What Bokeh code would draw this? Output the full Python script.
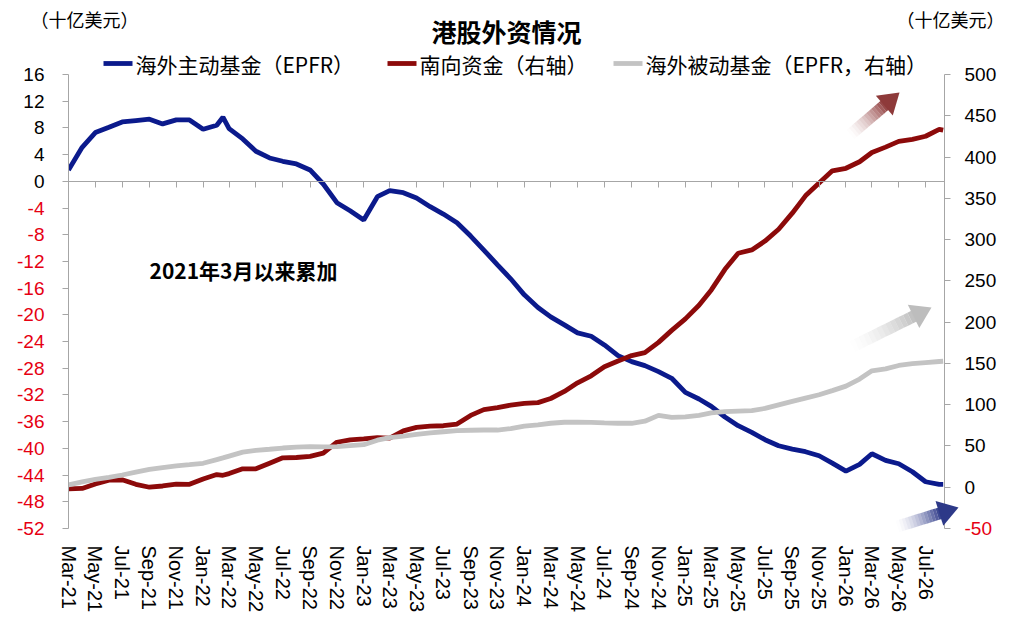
import pandas as pd

from bokeh.plotting import figure
from bokeh.models import (Range1d, LinearAxis, DatetimeAxis, FixedTicker, MonthsTicker,
                          DatetimeTickFormatter)
from bokeh.core.properties import value
from bokeh.embed import file_html
from bokeh.resources import INLINE

# month starts Mar-21 .. Aug-26, plus mid-Feb-22 (the peak) and the last week
months = [d.strftime("%Y-%m-%d") for d in pd.date_range("2021-03-01", "2026-08-01", freq="MS")]
dates = pd.to_datetime(months[:12] + ["2022-02-15"] + months[12:] + ["2026-08-10"])

# 海外主动基金 (left axis, bn USD)
active = [1.7, 5.1, 7.3, 8.1, 8.9, 9.1, 9.3, 8.6, 9.2, 9.2, 7.8, 8.4, 9.6,
          7.9, 6.35, 4.5, 3.5, 3.0, 2.6, 1.7, -0.4, -3.2, -4.4,
          -5.8, -2.3, -1.4, -1.7, -2.5, -3.8, -4.9, -6.2, -8.2, -10.3,
          -12.5, -14.6, -17.0, -18.9, -20.3, -21.5, -22.7, -23.2, -24.5, -26.1,
          -27.0, -27.6, -28.5, -29.5, -31.6, -32.6, -33.7, -35.3, -36.6, -37.6,
          -38.7, -39.6, -40.1, -40.5, -41.1, -42.2, -43.4, -42.4, -40.8, -41.8,
          -42.3, -43.5, -45.0, -45.4, -45.4]

# 南向资金 (right axis)
southbound = [-1.9, -1.5, 4.0, 8.5, 9.0, 3.5, 0, 1.5, 3.8, 3.5, 10, 15.4, 14.5,
              16.5, 22.3, 22.3, 29.1, 35.6, 36.0, 37.3, 41.3, 54.5, 57.4,
              58.6, 60.0, 59.5, 68.2, 72.5, 74, 74.5, 76.5, 87, 94,
              96.5, 99.5, 101.5, 102.5, 107.5, 116, 126.5, 135, 146, 153,
              159.5, 163, 175.5, 190, 204, 220.5, 239, 264, 283.5, 287.5,
              298.2, 312.5, 332, 353, 368.5, 383.3, 386.4, 394.3, 405.5, 412,
              419, 421.5, 425.2, 433.5, 432.5]

# 海外被动基金 (right axis)
passive = [2.9, 6.5, 9.4, 12, 14.8, 18.3, 21.5, 23.8, 25.8, 27.3, 29.0, 33.5, 35.5,
           37.7, 42.5, 44.6, 46.0, 47.5, 48.7, 49.3, 48.8, 49.2, 50.5,
           51.5, 57, 60.2, 62, 64, 65.8, 67.2, 68.5, 69, 69.3,
           69.3, 71, 74, 75.5, 77.5, 78.7, 78.7, 78.5, 78, 77.5,
           77.5, 80, 87, 84.5, 85.2, 87, 90, 91.5, 92.2, 92.7,
           95.5, 99.8, 104, 108, 112, 117, 122.5, 131, 141, 143.3,
           147.5, 149.7, 151, 152.3, 152.6]

series_names = ["海外主动基金（EPFR）", "南向资金（右轴）", "海外被动基金（EPFR，右轴）"]

left_pos = list(range(0, 17, 4))
left_neg = list(range(-52, 0, 4))
right_pos = list(range(0, 501, 50))
right_neg = [-50]

BLUE = "#0B1A8C"
RED = "#8C0A0A"
GRAY = "#C3C3C3"
NEG = "#E60012"
AXIS = "#A6A6A6"
NUM_FONT = "Liberation Sans"
CJK_FONT = "Noto Sans CJK SC"

x0 = pd.Timestamp("2021-03-01")
x1 = x0 + pd.Timedelta(days=1991)
PX_DAY = 876 / 1991
PX_UNIT = 454 / 68


def ms(ts):
    return (ts - pd.Timestamp("1970-01-01")).total_seconds() * 1000


def px_x(px):
    return ms(x0 + pd.Timedelta(days=(px - 68) / PX_DAY))


def px_y(py):
    return 16 - (py - 74) / PX_UNIT


p = figure(width=1020, height=628, x_axis_type="datetime",
           x_range=Range1d(x0, x1), y_range=Range1d(-52, 16),
           output_backend="svg", toolbar_location=None,
           min_border_left=68, min_border_right=1020 - 944, min_border_top=74,
           min_border_bottom=628 - 528)
p.extra_y_ranges = {"right": Range1d(-50, 500)}
p.outline_line_color = None
p.grid.visible = False

p.line(dates, active, line_color=BLUE, line_width=4.8)
p.line(dates, southbound, line_color=RED, line_width=4.8, y_range_name="right")
p.line(dates, passive, line_color=GRAY, line_width=4.8, y_range_name="right")


def style_y(ax, standoff):
    ax.axis_line_color = AXIS
    ax.major_tick_line_color = AXIS
    ax.major_tick_out = 6
    ax.major_tick_in = 0
    ax.minor_tick_line_color = None
    ax.major_label_standoff = standoff
    ax.major_label_text_font = NUM_FONT
    ax.major_label_text_font_size = "19px"
    ax.major_label_text_color = "black"


# left axis: ticks everywhere, black labels for >= 0
ya = p.yaxis[0]
ya.ticker = FixedTicker(ticks=left_neg + left_pos)
ya.major_label_overrides = {t: " " for t in left_neg}
style_y(ya, 18)

ra = LinearAxis(y_range_name="right", ticker=FixedTicker(ticks=right_neg + right_pos),
                major_label_overrides={t: " " for t in right_neg})
style_y(ra, 14)
p.add_layout(ra, "right")

# red labels for the negative ticks (overlay level, drawn outside the frame)
p.text(x=[ms(x0)] * len(left_neg), y=left_neg, text=[str(t) for t in left_neg],
       x_offset=-24, text_align="right", text_baseline="middle", text_color=NEG,
       text_font=value(NUM_FONT), text_font_size="19px", level="overlay")
p.text(x=[ms(x1)] * len(right_neg), y=right_neg, text=[str(t) for t in right_neg],
       y_range_name="right", x_offset=20, text_align="left", text_baseline="middle",
       text_color=NEG, text_font=value(NUM_FONT), text_font_size="19px", level="overlay")

# bottom labels only
xa = p.xaxis[0]
xa.ticker = MonthsTicker(months=[0, 2, 4, 6, 8, 10])
xa.formatter = DatetimeTickFormatter(months="%b-%y", days="%b-%y", years="%b-%y")
xa.major_label_orientation = "vertical"
xa.axis_line_color = None
xa.major_tick_line_color = None
xa.minor_tick_line_color = None
xa.major_label_standoff = 11
xa.major_label_text_font = NUM_FONT
xa.major_label_text_font_size = "20px"
xa.major_label_text_color = "black"

# axis line with ticks crossing at zero, no labels
za = DatetimeAxis(fixed_location=0, ticker=MonthsTicker(months=[0, 2, 4, 6, 8, 10]),
                  major_label_text_color=None, axis_line_color=AXIS,
                  major_tick_line_color=AXIS, major_tick_out=6, major_tick_in=0,
                  minor_tick_line_color=None)
p.add_layout(za, "below")

# title, units and legend row above the frame
p.text(x=[px_x(506)], y=[px_y(30)], text=["港股外资情况"], text_align="center",
       text_baseline="middle", text_font=value(CJK_FONT), text_font_size="25px",
       text_font_style="bold", text_color="black", level="overlay")
p.text(x=[px_x(30), px_x(1004)], y=[px_y(18)] * 2, text=["（十亿美元）"] * 2,
       text_align=["left", "right"], text_baseline="middle", text_font=value(CJK_FONT),
       text_font_size="18px", text_color="black", level="overlay")

leg_y = px_y(63)
leg_x = [103, 387, 613]
p.segment(x0=[px_x(v) for v in leg_x], y0=[leg_y] * 3,
          x1=[px_x(v + 29) for v in leg_x], y1=[leg_y] * 3,
          line_color=[BLUE, RED, GRAY], line_width=4.8, level="overlay")
p.text(x=[px_x(v + 32) for v in leg_x], y=[leg_y] * 3, text=series_names,
       text_baseline="middle", text_align="left", text_color="black",
       text_font=value(CJK_FONT), text_font_size="21px", level="overlay")

p.text(x=[px_x(149)], y=[px_y(269)], text=["2021年3月以来累加"], text_align="left",
       text_baseline="middle", text_font=value(CJK_FONT), text_font_size="21px",
       text_font_style="bold", text_color="black", level="overlay")


def fade_arrow(tail, tip, color, width=12, head=20, half=13, steps=14):
    (tx, ty), (hx, hy) = tail, tip
    dx, dy = hx - tx, hy - ty
    ln = (dx * dx + dy * dy) ** 0.5
    ux, uy = dx / ln, dy / ln
    shaft = ln - head + 1
    a = [shaft * i / steps for i in range(steps + 1)]
    p.segment(x0=[px_x(tx + ux * s) for s in a[:-1]], y0=[px_y(ty + uy * s) for s in a[:-1]],
              x1=[px_x(tx + ux * s) for s in a[1:]], y1=[px_y(ty + uy * s) for s in a[1:]],
              line_color=color, line_width=width, line_cap="butt",
              line_alpha=[0.92 * ((i + 1) / steps) ** 1.6 for i in range(steps)], level="overlay")
    bx, by = hx - ux * head, hy - uy * head
    nx, ny = -uy, ux
    xs = [hx, bx + nx * half, bx - nx * half]
    ys = [hy, by + ny * half, by - ny * half]
    p.patch(x=[px_x(v) for v in xs], y=[px_y(v) for v in ys], fill_color=color,
            line_color=None, level="overlay")


fade_arrow((850, 134), (899, 92), "#8E3A3A")
fade_arrow((852, 346), (931, 307), "#BDBDBD")
fade_arrow((897, 526), (958, 507), "#2D3988")

open("out.html", "w").write(file_html(p, INLINE))
